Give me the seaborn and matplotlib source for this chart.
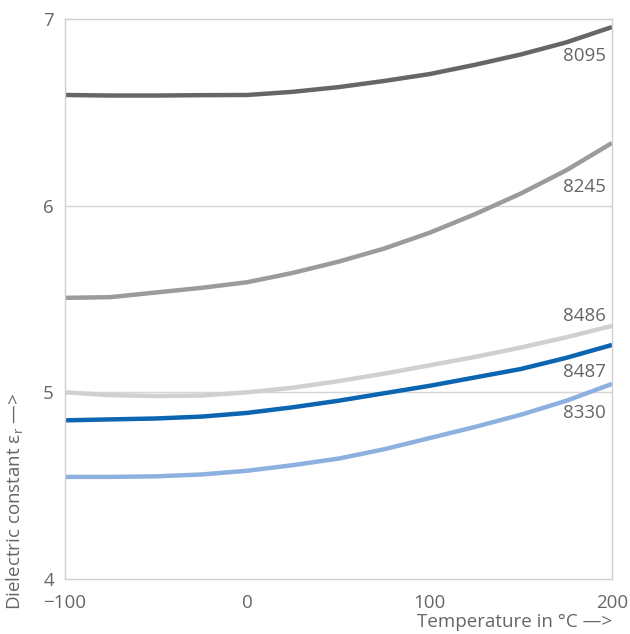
import matplotlib
matplotlib.use("Agg")
import matplotlib.pyplot as plt
import seaborn as sns
import pandas as pd

temps = [-100, -75, -50, -25, 0, 25, 50, 75, 100, 125, 150, 175, 200]
s8095 = [6.593, 6.59, 6.59, 6.592, 6.593, 6.61, 6.635, 6.668, 6.705, 6.755, 6.81, 6.875, 6.957]
s8245 = [5.506, 5.51, 5.535, 5.56, 5.59, 5.64, 5.70, 5.77, 5.855, 5.955, 6.065, 6.19, 6.336]
s8486 = [5.0, 4.985, 4.98, 4.983, 5.0, 5.025, 5.06, 5.10, 5.145, 5.19, 5.24, 5.295, 5.356]
s8487 = [4.85, 4.855, 4.86, 4.87, 4.89, 4.92, 4.955, 4.995, 5.035, 5.08, 5.125, 5.185, 5.254]
s8330 = [4.547, 4.547, 4.55, 4.56, 4.58, 4.61, 4.645, 4.695, 4.755, 4.815, 4.88, 4.955, 5.045]
names = ["8095", "8245", "8486", "8487", "8330"]
series = [s8095, s8245, s8486, s8487, s8330]
colors = ["#666666", "#9b9b9b", "#d0d0d0", "#0b65b0", "#8cb0e0"]
label_y = [6.80, 6.10, 5.41, 5.11, 4.89]

rows = []
for n, s in zip(names, series):
    for t, v in zip(temps, s):
        rows.append({"T": t, "eps": v, "grade": n})
df = pd.DataFrame(rows)

sns.set_theme(style="white")
plt.rcParams["font.family"] = ["Open Sans", "DejaVu Sans"]

fig = plt.figure(figsize=(6.3, 6.34), dpi=100)
ax = fig.add_axes([65 / 630, 1 - 579 / 634, (612 - 65) / 630, (579 - 19) / 634])

sns.lineplot(data=df, x="T", y="eps", hue="grade", hue_order=names,
             palette=dict(zip(names, colors)), linewidth=3.2, legend=False, ax=ax)
for ln in ax.lines:
    ln.set_solid_joinstyle("round")
    ln.set_solid_capstyle("butt")

ax.set_xlim(-100, 200)
ax.set_ylim(4, 7)
ax.set_xticks([-100, 0, 100, 200])
ax.set_xticklabels(["\u2212100", "0", "100", "200"])
ax.set_yticks([4, 5, 6, 7])
ax.set_yticklabels(["4", "5", "6", "7"])
for y in [5, 6]:
    ax.axhline(y, color="#d6d6d6", lw=1, zorder=0)
for sp in ax.spines.values():
    sp.set_color("#cfcfcf")
    sp.set_linewidth(1)
ax.tick_params(axis="x", colors="#cfcfcf", length=5, width=1, direction="out",
               labelcolor="#666666", labelsize=13.5, pad=6)
ax.tick_params(axis="y", length=0, labelcolor="#666666", labelsize=13.5, pad=8)
ax.set_xlabel("")
ax.set_ylabel("")

for n, ly in zip(names, label_y):
    ax.text(196.5, ly, n, ha="right", va="center", fontsize=13.5, color="#666666")

fig.text(15 / 630, 1 - 610 / 634, "Dielectric constant ε$_\\mathregular{r}$ —>",
         rotation=90, rotation_mode="anchor", ha="left", va="center",
         fontsize=13.5, color="#666666")
fig.text(612 / 630, 1 - 622 / 634, "Temperature in °C —>", ha="right", va="center",
         fontsize=13.5, color="#666666")

fig.savefig("out.png", dpi=100)
